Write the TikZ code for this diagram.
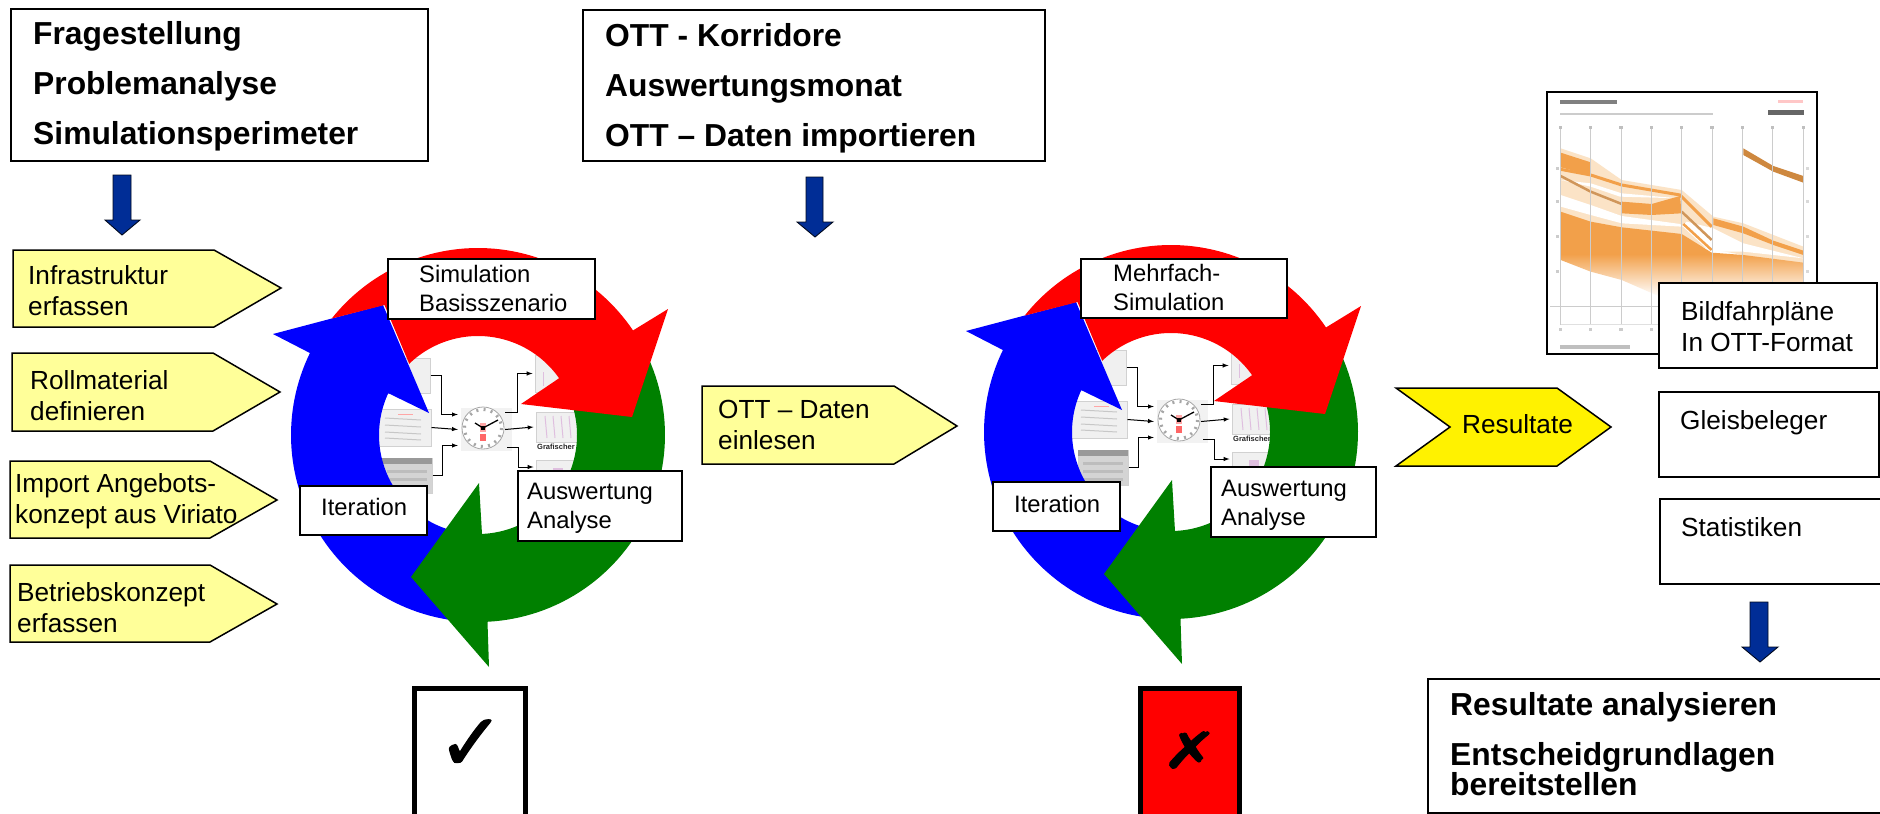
\documentclass[tikz,border=0pt]{standalone}
\usepackage{fontspec}
\setmainfont{Liberation Sans}
\newfontfamily\symf[FakeBold=1.6]{DejaVu Sans}
\usetikzlibrary{fit,calc}
\definecolor{penta}{HTML}{FFFF99}
\definecolor{navy}{HTML}{002D96}
\definecolor{ringgreen}{HTML}{008000}
\definecolor{orA}{HTML}{F2A04A}
\definecolor{orB}{HTML}{FBE3C6}
\tikzset{
  boxs/.style={draw=black,fill=white,line width=1.7pt,inner sep=0pt},
  thick box/.style={draw=black,line width=5pt,inner sep=0pt},
  reg/.style={font=\fontsize{26.2}{31}\selectfont,align=left,anchor=base west,inner sep=0pt,text=black},
  lab/.style={font=\fontsize{23.8}{29}\selectfont,align=left,anchor=base west,inner sep=0pt,text=black},
  bld/.style={font=\fontsize{31.8}{50}\selectfont\bfseries,align=left,anchor=base west,inner sep=0pt,text=black},
  pent/.style={draw=black,fill=penta,line width=1.5pt,line join=miter},
  dn/.style={draw=black!80!navy,fill=navy,line width=0.9pt,line join=miter},
  conn/.style={draw=black,line width=1pt},
  scr/.style={draw=black!18,fill=black!6,line width=1pt,inner sep=0pt},
  tiny/.style={font=\fontsize{7.5}{8}\selectfont\bfseries,inner sep=0pt,anchor=base west,text=black!85}
}
\newcommand{\bx}[5]{\node[boxs,fit={(#2,#3)(#4,#5)}] (#1) {};}
\newcommand{\penta}[6]{\draw[pent] (#1,#2) -- (#3,#2) -- (#5,#6) -- (#3,#4) -- (#1,#4) -- cycle;}
\newcommand{\dnarrow}[8]{\draw[dn] (#1,#3) -- (#2,#3) -- (#2,#4) -- (#6,#4) -- (#7,#8) -- (#5,#4) -- (#1,#4) -- cycle;}
% ring of three arrows, relative to its centre
\newcommand{\ringarrows}{%
  \fill[blue] plot[domain=96:206,samples=60] ({187*cos(\x)},{187*sin(\x)}) -- (-205,-101) -- (-95,-130) -- (-49,-22)
     -- plot[domain=205:96,samples=60] ({99*cos(\x)},{99*sin(\x)}) -- cycle;
  \fill[ringgreen] (9.5,187) -- (11,232) -- (-67,142) -- (1,48) -- (4,99)
     -- plot[domain=87.7:-30,samples=60] ({99*cos(\x)},{99*sin(\x)})
     -- plot[domain=-30:87,samples=60] ({187*cos(\x)},{187*sin(\x)}) -- cycle;
  \fill[red] plot[domain=218.5:326,samples=60] ({187*cos(\x)},{187*sin(\x)}) -- (190,-126) -- (154,-18) -- (43,-31)
     -- plot[domain=325:226,samples=60] ({99*cos(\x)},{99*sin(\x)}) -- (-93.5,-130) -- cycle;
}
% miniature screens and the clock, relative to the clock centre
\newcommand{\mini}{%
  \node[scr,fit={(-100,-70)(-53,-35)}] (s1) {};
  \node[scr,fit={(-108,-19)(-52,18)}] (s2) {};
  \node[scr,fill=black!17,fit={(-101,30)(-51,65)}] (s3) {};
  \fill[black!40] (-101,30) rectangle (-51,36);
  \foreach \yy in {42,50,58}{\fill[black!26] (-96,\yy) rectangle (-56,\yy+3);}
  \foreach \yy in {-10,-3,4,10}{\draw[black!22,line width=1pt] (-98,\yy) -- (-62,\yy+2);}
  \draw[red!35,line width=1pt] (-85,-14) -- (-70,-14);
  \node[scr,fit={(52,-73)(100,-36)}] (r1) {};
  \node[scr,fit={(53,-16)(107,14)}] (r2) {};
  \node[scr,fit={(53,32)(107,70)}] (r3) {};
  \foreach \xx in {62,70,78,86}{\draw[violet!25,line width=1pt] (\xx,-12) -- (\xx+2,10);}
  \draw[violet!25,line width=1pt] (60,-56) -- (60,-42);
  \fill[violet!25] (70,40) rectangle (80,46);
  \node[tiny] (rlab) at (54,21) {Grafischer Fahrplan};
  \node[fill=black!5,inner sep=0pt,fit={(-22,-20)(29,23)}] (clk) {};
  \fill[white] (0,0) circle (21);
  \draw[black!35,line width=3pt,dash pattern=on 2pt off 5.3pt] (0,0) circle (18.5);
  \draw[black!35,line width=0.8pt] (0,0) circle (21);
  \fill[red!60!white] (-3,6) rectangle (3,13);
  \fill[red!35!white] (-3,-5) rectangle (3,4);
  \draw[black,line width=1.3pt] (0,0) -- (-8,-5);
  \draw[black,line width=1.3pt] (0,0) -- (15,-8);
  \fill[black] (-2,-2) rectangle (2,2);
  \draw[conn,-latex] (s1.east) -- ++(11,0) |- ($(clk.west)+(-3,-15)$);
  \draw[conn,-latex] (s2.east) -- ($(clk.west)+(-3,0)$);
  \draw[conn,-latex] (s3.east) -- ++(10,0) |- ($(clk.west)+(-3,16)$);
  \draw[conn,-latex] ($(clk.east)+(-7,-17)$) -- ++(12,0) |- ($(r1.west)+(-2,0)$);
  \draw[conn,-latex] ($(clk.east)+(-7,0)$) -- ($(r2.west)+(-2,0)$);
  \draw[conn,-latex] ($(clk.east)+(-5,18)$) -- ++(11,0) |- ($(r3.west)+(-2,-12)$);
}
\begin{document}
\begin{tikzpicture}[x=1pt,y=-1pt]
\useasboundingbox (0,0) rectangle (1880,814);
\fill[white] (0,0) rectangle (1880,814);

% top-left
\bx{q1}{11}{9}{428}{161}
\node[bld] (q1t) at (33,144) {Fragestellung\\Problemanalyse\\Simulationsperimeter};
\dnarrow{113}{131}{175}{220}{105}{140}{122}{235}

% top-middle
\bx{q2}{583}{10}{1045}{161}
\node[bld] (q2t) at (605,146) {OTT - Korridore\\Auswertungsmonat\\OTT – Daten importieren};
\dnarrow{806}{823}{177}{222}{797}{833}{815}{237}

% left pentagons
\penta{13}{250}{214}{327}{281}{288}
\node[reg] (p1) at (28,315) {Infrastruktur\\erfassen};
\penta{12}{353}{213}{431}{280}{392}
\node[reg] (p2) at (30,420) {Rollmaterial\\definieren};
\penta{10}{461}{210}{538}{277}{500}
\node[reg] (p3) at (15,523) {Import Angebots-\\konzept aus Viriato};
\penta{10}{565}{210}{642}{277}{604}
\node[reg] (p4) at (17,632) {Betriebskonzept\\erfassen};

% left ring
\begin{scope}[shift={(483,428)},name prefix=a-]\mini\end{scope}
\begin{scope}[shift={(478,435)}]\ringarrows\end{scope}
\bx{b1}{388}{259}{595}{319}
\node[lab] (b1t) at (419,311) {Simulation\\Basisszenario};
\bx{b2}{300}{486}{427}{535}
\node[lab] (b2t) at (321,515) {Iteration};
\bx{b3}{518}{471}{682}{541}
\node[lab] (b3t) at (527,528) {Auswertung\\Analyse};

% OTT pentagon
\penta{702}{386}{894}{464}{957}{426}
\node[reg] (p5) at (718,449) {OTT – Daten\\einlesen};

% right ring
\begin{scope}[shift={(1179,420)},name prefix=c-]\mini\end{scope}
\begin{scope}[shift={(1171,432)}]\ringarrows\end{scope}
\bx{d1}{1081}{259}{1287}{318}
\node[lab] (d1t) at (1113,310) {Mehrfach-\\Simulation};
\bx{d2}{993}{482}{1120}{531}
\node[lab] (d2t) at (1014,512) {Iteration};
\bx{d3}{1211}{467}{1376}{537}
\node[lab] (d3t) at (1221,525) {Auswertung\\Analyse};

% check boxes
\node[thick box,fit={(414.5,688.5)(525.5,820)}] (ok) {};
\node[inner sep=0pt,font=\symf\fontsize{80}{80}\selectfont] (okm) at (471,745) {✓};
\node[thick box,fill=red,fit={(1140,688.5)(1239,820)}] (no) {};
\node[inner sep=0pt,font=\symf\fontsize{50}{50}\selectfont] (nom) at (1190,750) {\scalebox{1.35}[1]{✗}};

% Resultate
\draw[draw=black,fill=yellow,line width=1.5pt] (1396,388) -- (1557,388) -- (1611,427) -- (1557,466) -- (1396,466) -- (1450,427) -- cycle;
\node[reg] (res) at (1462,433) {Resultate};

% chart
\bx{ch}{1547}{92}{1817}{354}
\begin{scope}[shift={(1530,80)},x=0.3333pt,y=-0.3333pt]
  \fill[orB] (92,205) -- (182,235) -- (275,300) -- (455,330) -- (550,410) -- (640,430) -- (820,500) -- (820,560) -- (92,420) -- cycle;
  \fill[white] (92,300) -- (182,310) -- (275,340) -- (445,355) -- (270,350) -- (182,320) -- cycle;
  \fill[white] (92,345) -- (182,375) -- (275,408) -- (450,432) -- (540,515) -- (640,515) -- (820,535) -- (640,490) -- (550,445) -- (470,425) -- (455,440) -- (275,430) -- (182,405) -- (92,380) -- cycle;
  \shade[top color=orA,bottom color=white,middle color=orA] (92,395) -- (182,425) -- (275,442) -- (455,462) -- (545,518) -- (640,525) -- (820,548) -- (820,650) -- (390,650) -- (275,600) -- (182,575) -- (92,540) -- cycle;
  \fill[orA] (92,218) -- (182,247) -- (182,285) -- (92,262) -- cycle;
  \fill[orA] (275,365) -- (365,372) -- (450,348) -- (455,400) -- (365,405) -- (275,400) -- cycle;
  \fill[orA!85!black] (640,205) -- (730,258) -- (820,288) -- (820,308) -- (730,275) -- (640,225) -- cycle;
  \fill[orA] (550,415) -- (640,440) -- (730,482) -- (820,512) -- (820,525) -- (730,495) -- (640,460) -- (550,435) -- cycle;
  \draw[orA,line width=3pt] (92,268) -- (182,285) -- (275,315) -- (450,345) -- (545,440);
  \draw[orA!70!gray,line width=2.5pt] (92,288) -- (182,335) -- (275,372);
  \draw[orA!70!gray,line width=2.5pt] (455,395) -- (545,480);
  \draw[orA,line width=2.5pt] (460,432) -- (545,510);
  \foreach \vx in {92,182,273,365,455,546,637,728,820}{
    \draw[black!20,line width=0.9pt] (\vx,140) -- (\vx,735);
    \fill[black!25] (\vx-5,138) rectangle (\vx+5,146);
    \fill[black!20] (\vx-5,745) rectangle (\vx+5,753);
  }
  \draw[black!20,line width=0.9pt] (60,680) -- (850,680);
  \draw[black!12,line width=1pt] (92,735) -- (820,735);
  \foreach \vy in {265,365,470,575}{\fill[black!20] (78,\vy-4) rectangle (86,\vy+4);\fill[black!15] (828,\vy-4) rectangle (836,\vy+4);}
  \fill[black!50] (90,60) rectangle (260,71);
  \fill[black!20] (90,98) rectangle (550,105);
  \fill[black!60] (715,90) rectangle (822,105);
  \fill[red!22] (745,60) rectangle (820,68);
  \fill[black!25] (90,795) rectangle (300,806);
\end{scope}

% right boxes
\bx{e1}{1659}{283}{1877}{368}
\node[reg] (e1t) at (1681,351) {Bildfahrpläne\\In OTT-Format};
\bx{e2}{1659}{392}{1879}{477}
\node[reg] (e2t) at (1680,429) {Gleisbeleger};
\bx{e3}{1660}{499}{1885}{584}
\node[reg] (e3t) at (1681,536) {Statistiken};
\dnarrow{1750}{1768}{602}{647}{1742}{1778}{1760}{662}
\bx{f}{1428}{679}{1885}{813}
\node[bld,font=\fontsize{31.8}{30}\selectfont\bfseries] (ft) at (1450,795) {Resultate analysieren\\[20pt]Entscheidgrundlagen\\bereitstellen};
\end{tikzpicture}
\end{document}
